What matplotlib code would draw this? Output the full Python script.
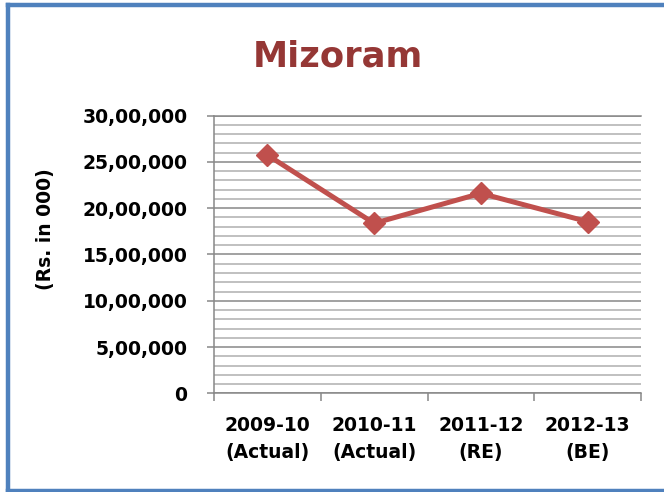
import matplotlib
matplotlib.use("Agg")
import matplotlib.pyplot as plt
from matplotlib.ticker import MultipleLocator, FuncFormatter, FixedLocator, NullFormatter
from matplotlib.lines import Line2D

title = "Mizoram"
categories = ["2009-10\n(Actual)", "2010-11\n(Actual)", "2011-12\n(RE)", "2012-13\n(BE)"]
values = [2575000, 1837000, 2161000, 1855000]
y_label = "(Rs. in 000)"
y_max = 3000000
y_major = 500000
y_minor = 100000


def indian(v, pos=None):
    n = int(round(v))
    s = str(abs(n))
    if len(s) <= 3:
        return s
    last3 = s[-3:]
    rest = s[:-3]
    groups = []
    while len(rest) > 2:
        groups.insert(0, rest[-2:])
        rest = rest[:-2]
    if rest:
        groups.insert(0, rest)
    return ",".join(groups + [last3])


W, H = 664, 492
fig = plt.figure(figsize=(W / 100, H / 100), dpi=100)
fig.patch.set_facecolor("white")

L, R, T, B = 214, 641, 115.7, 393.3
ax = fig.add_axes([L / W, 1 - B / H, (R - L) / W, (B - T) / H])

grid_major = "#888888"
grid_minor = "#C0C0C0"

x = list(range(len(values)))
ax.plot(x, values, color="#C0504D", lw=3.6, marker="D", ms=11,
        markerfacecolor="#C0504D", markeredgecolor="#C0504D", zorder=3, clip_on=False)

ax.set_ylim(0, y_max)
ax.set_xlim(-0.5, len(values) - 0.5)

ax.yaxis.set_major_locator(MultipleLocator(y_major))
ax.yaxis.set_minor_locator(MultipleLocator(y_minor))
ax.yaxis.set_major_formatter(FuncFormatter(indian))
ax.yaxis.grid(True, which="major", color=grid_major, lw=1.1)
ax.yaxis.grid(True, which="minor", color=grid_minor, lw=1.4)
ax.set_axisbelow(True)

ax.xaxis.set_major_locator(FixedLocator([i - 0.5 for i in range(len(values) + 1)]))
ax.xaxis.set_major_formatter(NullFormatter())
ax.xaxis.set_minor_locator(FixedLocator(x))
ax.set_xticklabels(categories, minor=True)

ax.spines["right"].set_visible(False)
for sp in ["left", "bottom", "top"]:
    ax.spines[sp].set_color(grid_major)
    ax.spines[sp].set_linewidth(1.1)

ax.tick_params(axis="y", which="major", direction="out", length=5, width=1.1,
               color=grid_major, pad=14, labelsize=13.5)
ax.tick_params(axis="y", which="minor", length=0)
ax.tick_params(axis="x", which="major", direction="out", length=5.8, width=1.1,
               color=grid_major)
ax.tick_params(axis="x", which="minor", length=0, pad=16, labelsize=13.5)

for lab in ax.get_yticklabels():
    lab.set_fontweight("bold")
for lab in ax.get_xticklabels(minor=True):
    lab.set_fontweight("bold")
    lab.set_linespacing(1.55)

fig.text(338 / W, 1 - 66.7 / H, title, ha="center", va="baseline",
         fontsize=25.5, fontweight="bold", color="#953735")
fig.text(45 / W, 1 - 229 / H, y_label, rotation=90, ha="center", va="center",
         fontsize=13.5, fontweight="bold", color="black")

# outer frame (top, left, bottom edges)
frame_col = "#4F81BD"
xl, yt, yb = 7.5 / W, 1 - 5 / H, 1 - 490.5 / H
for xs, ys in [([xl, 1.0], [yt, yt]), ([xl, xl], [yt, yb]), ([xl, 1.0], [yb, yb])]:
    fig.add_artist(Line2D(xs, ys, transform=fig.transFigure, color=frame_col,
                          lw=3.2, solid_capstyle="projecting"))

fig.savefig("out.png", dpi=100)
